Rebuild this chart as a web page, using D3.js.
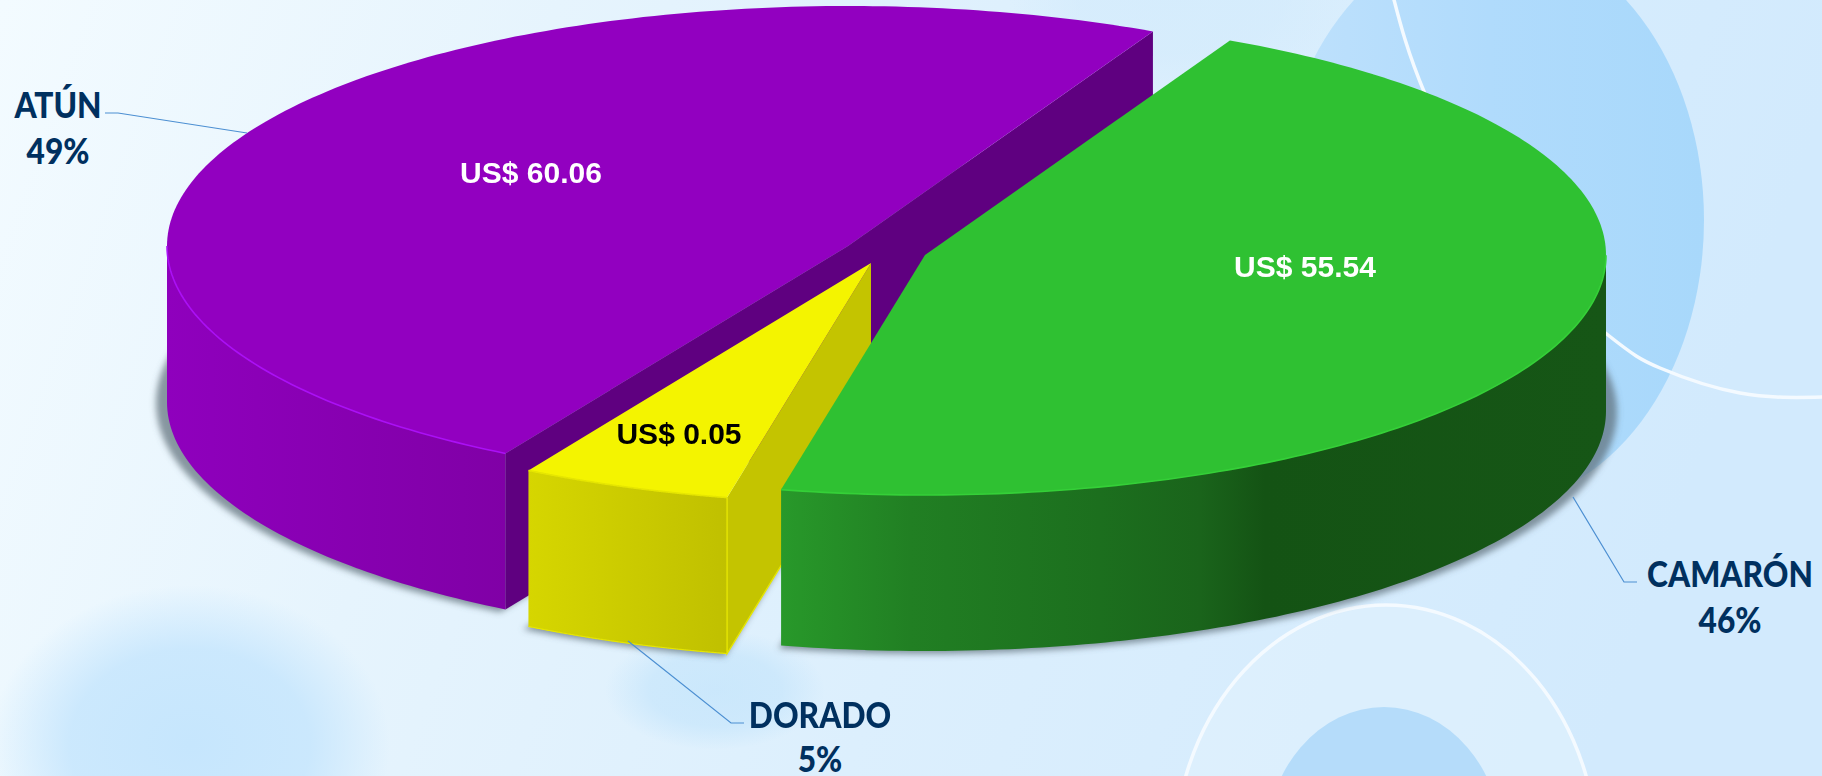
<!DOCTYPE html>
<html><head><meta charset="utf-8">
<style>html,body{margin:0;padding:0;overflow:hidden;background:#e4f3fe}svg{display:block}</style>
<script src="https://cdn.jsdelivr.net/npm/d3@7/dist/d3.min.js"></script></head>
<body><svg id="c" width="1822" height="776"></svg>
<script>
// data
const categories = ["CAMARÓN","DORADO","ATÚN"];
const shares = [46,5,49];
const amounts = ["US$ 55.54","US$ 0.05","US$ 60.06"];

// styling / layout
const W=1822,H=776,RX=681,RY=240,DEPTH=156;
const centers=[[925,255],[871,263],[848,246]];
const topCol=["#2fc132","#f4f400","#9200c0"];
const cutCol=["#14551a","#c4c400","#5f0080"];
const rimCol=["#35d038","#e6e600","#ab10f5"];
const wallStops=[
 [[781,"#28992a"],[911,"#217f23"],[1100,"#1c6f1e"],[1200,"#1a641b"],[1265,"#145314"],[1606,"#165616"]],
 [[528,"#d6d600"],[728,"#c0c000"]],
 [[167,"#8f00bd"],[508,"#8000a6"]]];
const valueCol=["#ffffff","#000000","#ffffff"];
const valuePos=[[1305,277],[679,444],[531,183]];
const labelPos=[[1730,587,633],[820,728,772],[58,118,164]];
const leaders=[[[1573,497],[1624,582],[1637,582]],[[628,641],[731,723],[744,723]],[[247,133],[118,113],[105,113]]];

const svg=d3.select("#c");
const defs=svg.append("defs");
const bg=defs.append("linearGradient").attr("id","bg").attr("x1",0).attr("y1",0).attr("x2",1).attr("y2",0.15);
[[0,"#f3fbff"],[0.3,"#e6f4fd"],[0.6,"#dceffd"],[1,"#d2eafd"]].forEach(s=>bg.append("stop").attr("offset",s[0]).attr("stop-color",s[1]));
const blob=(id,c,o)=>{const g=defs.append("radialGradient").attr("id",id);
 g.append("stop").attr("offset",0).attr("stop-color",c).attr("stop-opacity",o);
 g.append("stop").attr("offset",0.6).attr("stop-color",c).attr("stop-opacity",o*0.85);
 g.append("stop").attr("offset",1).attr("stop-color",c).attr("stop-opacity",0);};
blob("b1","#c6e6fd",1);blob("b2","#c0e3fb",0.65);blob("b3","#d3ebfc",0.7);
const eg=defs.append("linearGradient").attr("id","big").attr("x1",0).attr("x2",1).attr("y1",0).attr("y2",0);
[[0,"#bfe1fc"],[0.5,"#b0dbfc"],[1,"#a8d8fb"]].forEach(s=>eg.append("stop").attr("offset",s[0]).attr("stop-color",s[1]));
const f=defs.append("filter").attr("id","sh").attr("x","-5%").attr("y","-5%").attr("width","110%").attr("height","110%");
f.append("feGaussianBlur").attr("stdDeviation",3);

svg.append("rect").attr("width",W).attr("height",H).attr("fill","url(#bg)");
svg.append("ellipse").attr("cx",190).attr("cy",745).attr("rx",200).attr("ry",160).attr("fill","url(#b1)");
svg.append("ellipse").attr("cx",715).attr("cy",690).attr("rx",110).attr("ry",60).attr("fill","url(#b2)");
svg.append("ellipse").attr("cx",1180).attr("cy",0).attr("rx",170).attr("ry",90).attr("fill","url(#b3)");
svg.append("ellipse").attr("cx",1490).attr("cy",220).attr("rx",214).attr("ry",285).attr("fill","url(#big)");
svg.append("ellipse").attr("cx",1386).attr("cy",860).attr("rx",212).attr("ry",255).attr("fill","#e2f2fd").attr("fill-opacity",0.55).attr("stroke","#f4faff").attr("stroke-width",3.5);
svg.append("ellipse").attr("cx",1384).attr("cy",845).attr("rx",118).attr("ry",138).attr("fill","#b5dcfa");
const ringLine=d3.line().curve(d3.curveNatural);
const ringA=[[1393,-4],[1425,94],[1505,235],[1608,335],[1660,368],[1740,393],[1826,397]];
svg.append("path").attr("d",ringLine(ringA)).attr("fill","none").attr("stroke","#f4faff").attr("stroke-width",3.5);

// pie
const arcs=d3.pie().sort(null).startAngle(26.6*Math.PI/180).endAngle(386.6*Math.PI/180)(shares);
const sx=d3.scaleLinear().domain([-1,1]).range([-RX,RX]);
const sy=d3.scaleLinear().domain([-1,1]).range([-RY,RY]);
const pt=(i,t,dz=0,grow=[0,0])=>[centers[i][0]+sx(Math.cos(t))+grow[0]*Math.cos(t),centers[i][1]+sy(Math.sin(t))+grow[1]*Math.sin(t)+dz];
const samples=(a,b)=>d3.range(0,1.0001,1/180).map(u=>a+(b-a)*u);
const line=d3.line();
const slices=arcs.map((d,i)=>({i,a:d.startAngle-Math.PI/2,b:d.endAngle-Math.PI/2}));

// soft shadow under every slice
const sg=svg.append("g").attr("filter","url(#sh)");
slices.forEach(s=>{
 const ts=samples(s.a,s.b).map(t=>pt(s.i,t,DEPTH+1,[11,2]));
 sg.append("path").attr("d",line([[centers[s.i][0],centers[s.i][1]+DEPTH],...ts])+"Z").attr("fill","#5c6c76").attr("opacity",.7);
});

// draw order: back to front
[2,1,0].forEach(i=>{
 const s=slices[i], g=svg.append("g");
 const stops=wallStops[i];
 const grad=defs.append("linearGradient").attr("id","wall"+i).attr("gradientUnits","userSpaceOnUse")
  .attr("x1",stops[0][0]).attr("x2",stops[stops.length-1][0]).attr("y1",0).attr("y2",0);
 const span=stops[stops.length-1][0]-stops[0][0];
 stops.forEach(st=>grad.append("stop").attr("offset",(st[0]-stops[0][0])/span).attr("stop-color",st[1]));
 // cut faces
 [[s.a,Math.cos(s.a)<0],[s.b,Math.cos(s.b)>0]].forEach(([t,vis])=>{
  if(!vis) return;
  const c=centers[i],r=pt(i,t),r2=pt(i,t,DEPTH);
  g.append("path").attr("d",line([c,r,r2,[c[0],c[1]+DEPTH]])+"Z").attr("fill",cutCol[i]);
 });
 // outer wall (front half only)
 const vis=samples(s.a,s.b).filter(t=>Math.sin(t)>=0);
 const top=vis.map(t=>pt(i,t)), bot=vis.map(t=>pt(i,t,DEPTH)).reverse();
 g.append("path").attr("d",line([...top,...bot])+"Z").attr("fill",`url(#wall${i})`);
 // top face
 const rim=samples(s.a,s.b).map(t=>pt(i,t));
 g.append("path").attr("d",line([centers[i],...rim])+"Z").attr("fill",topCol[i]);
 g.append("path").attr("d",line(top)).attr("fill","none").attr("stroke",rimCol[i]).attr("stroke-width",1.6);
 if(i===1){
  const c=pt(i,s.a),c2=pt(i,s.a,DEPTH);
  g.append("path").attr("d",line([c,c2,[centers[i][0],centers[i][1]+DEPTH]])).attr("fill","none").attr("stroke",rimCol[i]).attr("stroke-width",1.4);
  g.append("path").attr("d",line(bot)).attr("fill","none").attr("stroke",rimCol[i]).attr("stroke-width",1.2);
 }
});
// value labels
svg.selectAll("text.v").data(amounts).join("text").attr("class","v")
 .attr("x",(d,i)=>valuePos[i][0]).attr("y",(d,i)=>valuePos[i][1])
 .attr("text-anchor","middle").attr("font-family","'Liberation Sans',Arial,sans-serif")
 .attr("font-weight",700).attr("font-size",30).attr("fill",(d,i)=>valueCol[i]).text(d=>d);

// leaders
svg.selectAll("path.l").data(leaders).join("path").attr("class","l")
 .attr("d",d=>line(d)).attr("fill","none").attr("stroke","#4c8fd2").attr("stroke-width",1.2);

// category labels: narrowed to the proportions of a condensed bold face
const lab=svg.append("g").attr("font-family","Lato,Carlito,sans-serif").attr("font-weight",900)
 .attr("font-size",36).attr("fill","#00305f").attr("text-anchor","middle");
categories.forEach((c,i)=>{
 [[c,labelPos[i][1]],[shares[i]+"%",labelPos[i][2]]].forEach(([t,y])=>{
  lab.append("text").attr("transform",`translate(${labelPos[i][0]},${y}) scale(0.88,1)`).text(t);
 });
});
</script></body></html>
